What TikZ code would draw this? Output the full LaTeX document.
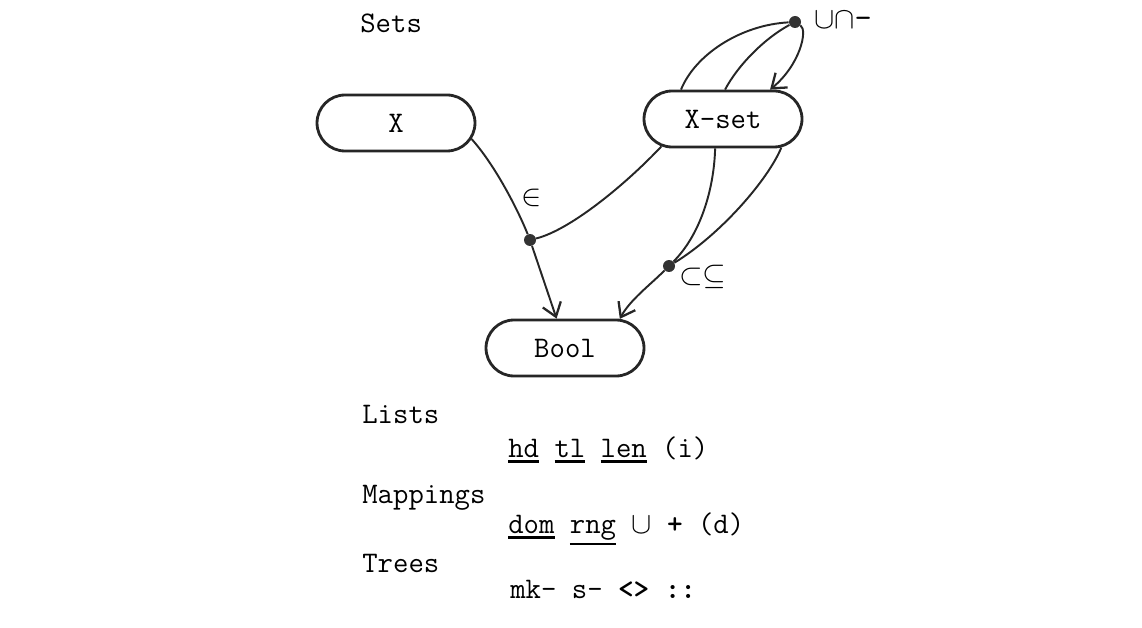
\documentclass[tikz,border=0pt]{standalone}
\usepackage{amsmath,amssymb}
\usepackage{tikz}
\usetikzlibrary{shapes.misc, arrows.meta}
\tikzset{
    block/.style={rounded rectangle, draw=black!85, line width=1.6pt, minimum width=3.16cm, minimum height=1.12cm, inner sep=0pt},
    dot/.style={circle, fill=black!80, inner sep=0pt, minimum size=0.24cm},
    link/.style={draw=black!85, line width=1.1pt},
    arrow/.style={link, -{Straight Barb[length=0.26cm, width=0.38cm, line width=1.3pt]}},
    lbl/.style={inner sep=0pt, anchor=base west},
    opname/.style={inner sep=0pt, font=\fontsize{19}{22}\selectfont}
}
\newcommand{\kwd}[1]{\vtop{\hbox{#1}\kern1.6pt\hrule height 1.6pt}}

\begin{document}
\begin{tikzpicture}[x=0.02cm, y=-0.02cm, font=\fontsize{17}{20}\selectfont\ttfamily]
    \useasboundingbox (0,0) rectangle (1142,628);
    % type boxes
    \node (x) [block] at (396,123) {X};
    \node (xset) [block] at (723,119) {X-set};
    \node (bool) [block] at (565,348) {Bool};
    % operator points
    \node (mem) [dot] at (530,240) {};
    \node (sub) [dot] at (669,266) {};
    \node (ops) [dot] at (795,22) {};

    \node (sets) [lbl] at (360,33) {Sets};
    \node (memop) [opname] at (532,198) {$\in$};
    \node (subop) [opname] at (703,277) {$\subset\subseteq$};
    \node (setop) [opname] at (843,20) {$\cup\cap$\texttt{-}};

    \draw [link] (x.348) .. controls (495,165) and (518,210) .. (mem);
    \draw [link] (xset.204) .. controls (625,185) and (570,230) .. (mem);
    \draw [arrow] (mem) -- (bool.106);
    \draw [link] (xset.255) .. controls (714,190) and (700,235) .. (sub);
    \draw [link] (xset.334) .. controls (768,180) and (720,235) .. (sub);
    \draw [arrow] (sub) .. controls (650,285) and (630,300) .. (bool.28);
    \draw [link] (xset.145) .. controls (695,55) and (740,25) .. (ops);
    \draw [link] (xset.86) .. controls (738,65) and (765,38) .. (ops);
    \draw [arrow] (ops) .. controls (808,30) and (800,65) .. (xset.32);

    % other types
    \node (lists) [lbl] at (362,423) {Lists};
    \node (listops) [lbl] at (508,457) {\kwd{hd} \kwd{tl} \kwd{len} (i)};
    \node (maps) [lbl] at (362,503) {Mappings};
    \node (mapops) [lbl] at (508,533) {\kwd{dom} \kwd{rng} $\cup$ \textbf{+} (d)};
    \node (trees) [lbl] at (362,572) {Trees};
    \node (treeops) [lbl] at (510,598) {mk- s- \textbf{<>} \textbf{::}};
\end{tikzpicture}
\end{document}
